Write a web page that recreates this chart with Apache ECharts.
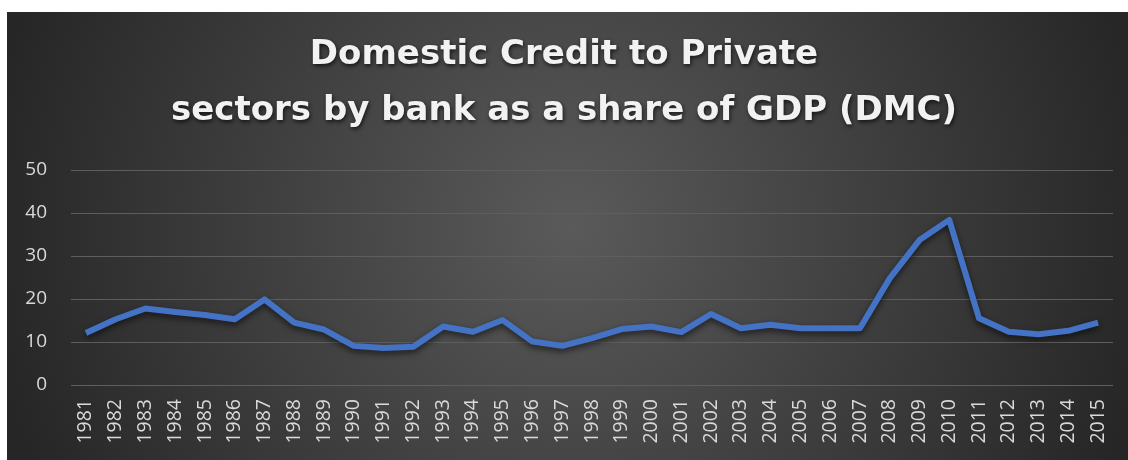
<!DOCTYPE html>
<html><head><meta charset="utf-8">
<script src="https://cdn.jsdelivr.net/npm/echarts@6/dist/echarts.min.js"></script>
<style>html,body{margin:0;padding:0;background:#fff;}#c{width:1128px;height:460px;}</style>
</head><body><div id="c"></div>
<script>
const years = ['1981','1982','1983','1984','1985','1986','1987','1988','1989','1990','1991','1992','1993','1994','1995','1996','1997','1998','1999','2000','2001','2002','2003','2004','2005','2006','2007','2008','2009','2010','2011','2012','2013','2014','2015'];
const dmc = [12.1,15.3,17.8,17.0,16.3,15.3,19.9,14.5,12.9,9.1,8.6,8.9,13.6,12.4,15.1,10.1,9.1,10.9,13.0,13.6,12.3,16.5,13.2,14.0,13.2,13.2,13.2,24.8,33.7,38.4,15.5,12.4,11.8,12.6,14.5];
const yTicks = [0,10,20,30,40,50];
const titleText = 'Domestic Credit to Private\nsectors by bank as a share of GDP (DMC)';

const chart = echarts.init(document.getElementById('c'));
chart.setOption({
  backgroundColor:'#ffffff',
  animation:false,
  graphic:[{type:'rect',z:-10,silent:true,shape:{x:7,y:12,width:1121,height:448},
    style:{fill:{type:'radial',global:true,x:570,y:225,r:590,colorStops:[{offset:0,color:'#5a5a5a'},{offset:1,color:'#262626'}]}}}],
  title:{text:titleText,left:'center',top:22,
    textStyle:{color:'#f2f2f2',fontFamily:'DejaVu Sans',fontWeight:'bold',fontSize:34,lineHeight:56,
      textShadowColor:'rgba(0,0,0,0.7)',textShadowBlur:4,textShadowOffsetX:1,textShadowOffsetY:2}},
  grid:{left:71,right:15,top:170,bottom:75},
  xAxis:{type:'category',data:years,boundaryGap:true,
    axisLine:{show:false},axisTick:{show:false},
    axisLabel:{rotate:90,color:'#d9d9d9',fontFamily:'Open Sans',fontSize:19.5,margin:14,interval:0}},
  yAxis:{type:'value',min:yTicks[0],max:yTicks[yTicks.length-1],interval:10,
    axisLine:{show:false},axisTick:{show:false},
    axisLabel:{color:'#d9d9d9',fontFamily:'Open Sans',fontSize:19,margin:24},
    splitLine:{lineStyle:{color:'#5e5e5e',width:1}}},
  series:[{type:'line',data:dmc,symbol:'none',
    lineStyle:{color:'#4472c4',width:6,shadowColor:'rgba(0,0,0,0.6)',shadowBlur:6,shadowOffsetY:3,join:'round'},
    itemStyle:{color:'#4472c4'}}]
});
</script></body></html>
